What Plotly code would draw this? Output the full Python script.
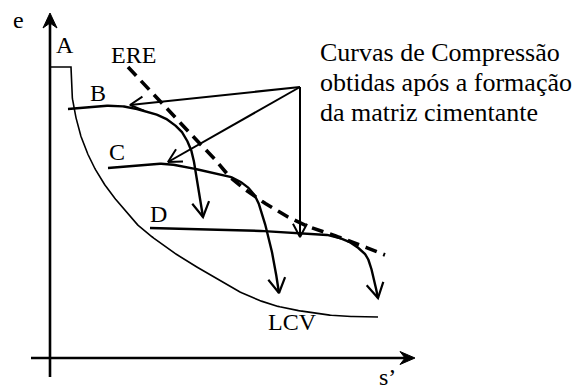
import numpy as np
import plotly.graph_objects as go

# Schematic e vs s' diagram; origin at the crossing of the two axes.
# Initial state A (flat top) and the virgin compression line LCV
curve_A_s = [0, 21]
curve_A_e = [291, 291]
lcv_s = [21, 22, 27, 33, 43, 57, 73, 90, 123, 157, 190, 223, 257, 290, 328]
lcv_e = [291, 263, 236, 216, 193, 170, 150, 131, 106, 85, 66, 53, 46, 42, 41]

# Compression curves after the cementing matrix has formed
curve_B_s = [18, 50, 77, 110, 127, 135, 142, 147, 153]
curve_B_e = [249, 252, 251, 242, 231, 221, 205, 178, 141]
curve_C_s = [58, 90, 117, 150, 183, 203, 213, 223, 229]
curve_C_e = [190, 193, 194, 188, 180, 165, 141, 101, 65]
curve_D_s = [100, 150, 190, 250, 277, 295, 307, 317, 323, 328]
curve_D_e = [130, 129, 128, 125, 123, 118, 111, 101, 83, 60]

# ERE boundary (dashed)
ere_s = [78, 103, 123, 143, 163, 180, 210, 250, 297, 335]
ere_e = [291, 264, 242, 221, 201, 181, 158, 135, 118, 103]

# Callout arrows from the caption to curves B, C and D
callout_origin = (250, 271)
callout_tips_s = [80, 118, 250]
callout_tips_e = [253, 196, 121]

caption_lines = ["Curvas de Compressão", "obtidas após a formação", "da matriz cimentante"]
curve_labels = ["A", "B", "C", "D", "ERE", "LCV"]

FONT = "Liberation Serif"
BLACK = "black"


def catmull(xs, ys, n=20):
    P = np.column_stack([xs, ys]).astype(float)
    P = np.vstack([2 * P[0] - P[1], P, 2 * P[-1] - P[-2]])
    out = []
    t = np.linspace(0, 1, n, endpoint=False)[:, None]
    for i in range(1, len(P) - 2):
        p0, p1, p2, p3 = P[i - 1], P[i], P[i + 1], P[i + 2]
        seg = 0.5 * ((2 * p1) + (-p0 + p2) * t
                     + (2 * p0 - 5 * p1 + 4 * p2 - p3) * t ** 2
                     + (-p0 + 3 * p1 - 3 * p2 + p3) * t ** 3)
        out.append(seg)
    out.append(P[-2][None, :])
    return np.vstack(out)


def open_head(tip, prev, length=15.0, half=np.radians(28)):
    tip = np.asarray(tip, float)
    d = tip - np.asarray(prev, float)
    d /= np.linalg.norm(d)
    back = -d
    pts = []
    for sgn in (1, -1):
        a = sgn * half
        r = np.array([back[0] * np.cos(a) - back[1] * np.sin(a),
                      back[0] * np.sin(a) + back[1] * np.cos(a)])
        pts.append(tip + length * r)
    return [pts[0][0], tip[0], pts[1][0]], [pts[0][1], tip[1], pts[1][1]]


def line(fig, x, y, width, dash="solid"):
    fig.add_trace(go.Scatter(x=list(x), y=list(y), mode="lines",
                             line=dict(color=BLACK, width=width, dash=dash),
                             hoverinfo="skip"))


fig = go.Figure()

# axes with filled arrowheads
y_top, x_end = 345, 365
line(fig, [0, 0], [-19, y_top - 10], 2.6)
line(fig, [-19, x_end - 10], [0, 0], 2.6)
fig.add_trace(go.Scatter(x=[0, -7, 0, 7, 0], y=[y_top, y_top - 15, y_top - 10, y_top - 15, y_top],
                         mode="lines", fill="toself", fillcolor=BLACK,
                         line=dict(color=BLACK, width=1), hoverinfo="skip"))
fig.add_trace(go.Scatter(x=[x_end, x_end - 15, x_end - 10, x_end - 15, x_end],
                         y=[0, 6.5, 0, -6.5, 0],
                         mode="lines", fill="toself", fillcolor=BLACK,
                         line=dict(color=BLACK, width=1), hoverinfo="skip"))

# initial state and LCV
lcv = catmull(lcv_s, lcv_e)
line(fig, list(curve_A_s) + list(lcv[:, 0]), list(curve_A_e) + list(lcv[:, 1]), 1.6)

# ERE
ere = catmull(ere_s, ere_e)
line(fig, ere[:, 0], ere[:, 1], 3.6, dash="12px,7px")

# compression curves B, C, D with open arrowheads
for cs, ce in [(curve_B_s, curve_B_e), (curve_C_s, curve_C_e), (curve_D_s, curve_D_e)]:
    c = catmull(cs, ce)
    line(fig, c[:, 0], c[:, 1], 2.4)
    hx, hy = open_head(c[-1], c[-6], length=17, half=np.radians(30))
    line(fig, hx, hy, 2.2)

# callout arrows
ox, oy = callout_origin
for tx, ty in zip(callout_tips_s, callout_tips_e):
    line(fig, [ox, tx], [oy, ty], 2.0)
    hx, hy = open_head((tx, ty), (ox, oy), length=15, half=np.radians(28))
    line(fig, hx, hy, 2.0)

annotations = []


def text(x, y, s, size=24, xanchor="center"):
    annotations.append(dict(x=x, y=y, text=s, showarrow=False, xanchor=xanchor,
                            yanchor="middle", font=dict(family=FONT, size=size, color=BLACK)))


text(-32, 338, "e")
label_pos = {"A": (15, 313), "B": (48, 265), "C": (67, 206), "D": (108, 144),
             "ERE": (83, 303), "LCV": (242, 36)}
for lab in curve_labels:
    text(*label_pos[lab], lab)
text(337, -19, "s’")

for i, ln in enumerate(caption_lines):
    text(268, 306 - 30 * i, ln, size=26, xanchor="left")

fig.update_layout(
    width=580, height=392,
    margin=dict(l=0, r=0, t=0, b=0),
    paper_bgcolor="white", plot_bgcolor="white",
    showlegend=False,
    font=dict(family=FONT),
    xaxis=dict(range=[-50, 530], visible=False, fixedrange=True),
    yaxis=dict(range=[-34, 358], visible=False, fixedrange=True),
    annotations=annotations,
)

fig.write_html("out.html")
